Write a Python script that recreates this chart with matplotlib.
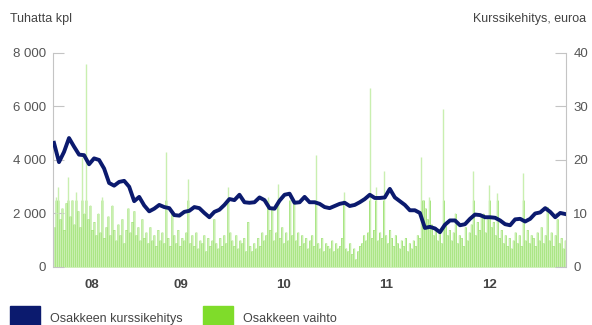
import numpy as np
import pandas as pd
import matplotlib
matplotlib.use("Agg")
import matplotlib.pyplot as plt
from matplotlib.patches import Rectangle

plt.rcParams['font.family'] = ['Liberation Sans', 'DejaVu Sans']

start_date = "2008-04-07"
end_date = "2013-03-28"

# share price, euros (read every ~2.5 weeks)
price = [23.2, 19.6, 21.5, 24.1, 22.5, 21.0, 20.9, 19.2, 20.3, 20.0,
         18.4, 15.7, 15.2, 15.9, 16.1, 15.0, 12.3, 13.1, 11.5, 10.4,
         10.9, 11.6, 11.2, 11.0, 9.7, 9.6, 10.3, 10.5, 11.2, 11.0,
         10.1, 9.3, 10.3, 10.7, 11.6, 12.7, 12.5, 13.5, 12.1, 12.0,
         12.1, 13.0, 12.5, 11.0, 10.9, 12.4, 13.5, 13.7, 12.0, 12.1,
         13.1, 12.1, 12.1, 11.8, 11.2, 11.0, 11.4, 11.8, 12.0, 11.4,
         11.6, 12.1, 12.7, 13.5, 12.9, 12.9, 13.0, 14.6, 13.0, 12.3,
         11.6, 10.6, 10.6, 10.1, 7.3, 7.5, 7.2, 6.5, 7.9, 8.7,
         8.7, 7.8, 8.0, 9.0, 9.8, 9.7, 9.3, 9.3, 9.2, 8.7,
         8.0, 7.8, 8.9, 9.0, 8.5, 9.0, 10.0, 10.2, 11.0, 10.3,
         9.3, 10.1, 9.9]

# traded volume, thousands of shares (approx. weekly)
volume = [1500, 2600, 3000, 1800, 2200, 1400, 2400, 3360, 1900, 2500,
          1600, 2800, 2100, 1500, 4100, 2000, 7600, 1800, 2300, 1400,
          1700, 1200, 2000, 1300, 2600, 1100, 1500, 1900, 1200, 2300,
          1400, 1000, 1600, 1200, 1800, 900, 1400, 2200, 1300, 1700,
          2100, 1200, 1500, 1000, 1800, 1100, 1300, 900, 1500, 1000,
          1200, 800, 1400, 1000, 1300, 900, 4300, 1100, 800, 2000,
          1200, 900, 1400, 800, 1100, 1000, 1300, 3300, 900, 1200,
          800, 1300, 700, 1000, 900, 1200, 600, 1100, 800, 1000,
          1800, 900, 700, 1100, 800, 1200, 900, 3000, 1300, 1000,
          800, 1200, 700, 1000, 900, 1100, 600, 1700, 800, 600,
          900, 700, 1100, 800, 1300, 1000, 1200, 2600, 1400, 2200,
          1000, 1300, 3100, 1100, 1500, 900, 1300, 1000, 2500, 1200,
          2400, 1000, 1300, 800, 1200, 900, 1100, 700, 1000, 1200,
          800, 4200, 900, 700, 1100, 600, 900, 800, 700, 1000,
          600, 900, 700, 800, 1100, 2800, 700, 600, 900, 500,
          700, 300, 600, 800, 900, 1200, 1000, 1300, 6700, 1100,
          1400, 3000, 1000, 1300, 1100, 3600, 1200, 900, 1400, 1100,
          800, 1200, 900, 700, 1000, 800, 1100, 600, 900, 700,
          1000, 800, 1200, 1100, 4100, 2500, 2200, 1800, 2600, 1600,
          1200, 1500, 1000, 1400, 900, 5900, 1600, 1200, 1400, 1000,
          1300, 2000, 900, 1200, 1100, 800, 1500, 1000, 1300, 1600,
          3600, 1200, 1700, 1400, 1900, 2000, 1300, 1800, 3060, 1500,
          1700, 1200, 2750, 1100, 1400, 900, 1200, 800, 1100, 700,
          1000, 1300, 900, 1200, 800, 3500, 1000, 1400, 900, 1200,
          1100, 800, 1300, 1000, 1500, 900, 1200, 2250, 1000, 1300,
          800, 1200, 1800, 900, 1100, 700, 1000]

years = [2008, 2009, 2010, 2011, 2012]
year_labels = ["08", "09", "10", "11", "12"]

navy = "#0b1a6e"
green = "#7fdc2a"
bar_green = "#9ce271"
spike_green = "#c9efb0"
grey = "#c4c4c4"
text_col = "#555555"

price_dates = pd.date_range(start_date, end_date, periods=len(price))
vol_dates = pd.date_range(start_date, end_date, periods=len(volume))
t0 = pd.Timestamp(start_date)
t1 = pd.Timestamp(end_date)
step = (t1 - t0) / (len(volume) - 1)

fig = plt.figure(figsize=(5.92, 3.25), dpi=100)
ax = fig.add_axes([0.0895, 0.1785, 0.867, 0.6585])
ax2 = ax.twinx()

# tall single-day spikes look faint in the original, so draw them as thin pale lines
vol = np.array(volume)
base = np.minimum(vol, 2500)
ax.vlines(vol_dates, 0, vol, color=spike_green, lw=1.0)
ax.fill_between(vol_dates, 0, base, step="mid", color=bar_green, lw=0)
ax2.plot(price_dates, price, color=navy, lw=2.8, solid_joinstyle="round")

ax.set_xlim(t0 - step / 2, t1 + step / 2)
ax.set_ylim(0, 8000)
ax2.set_ylim(0, 40)
ax.set_yticks([0, 2000, 4000, 6000, 8000])
ax.set_yticklabels(["0", "2 000", "4 000", "6 000", "8 000"])
ax2.set_yticks([0, 10, 20, 30, 40])

# year labels centred on the visible part of each year
centres = []
for y in years:
    a = max(pd.Timestamp(f"{y}-01-01"), t0)
    b = min(pd.Timestamp(f"{y + 1}-01-01"), t1)
    centres.append(a + (b - a) / 2)
ax.set_xticks(centres)
ax.set_xticklabels(year_labels, fontweight="bold", fontsize=9.5, color="#444444")
ax.tick_params(axis="x", length=0, pad=9)

for a in (ax, ax2):
    for s in ("top", "bottom", "left", "right"):
        a.spines[s].set_visible(False)
ax.spines["left"].set_visible(True)
ax.spines["left"].set_color(grey)
ax2.spines["right"].set_visible(True)
ax2.spines["right"].set_color(grey)

ax.tick_params(axis="y", direction="in", length=8, color=grey, labelsize=9.5,
               labelcolor=text_col, pad=5)
ax2.tick_params(axis="y", direction="in", length=8, color=grey, labelsize=9.5,
                labelcolor=text_col, pad=5)

fig.text(0.017, 0.942, "Tuhatta kpl", fontsize=9, color="#444444", va="center")
fig.text(0.99, 0.942, "Kurssikehitys, euroa", fontsize=9, color="#444444",
         va="center", ha="right")

# legend
fig.patches.append(Rectangle((10 / 592, 0), 30 / 592, 19 / 325, transform=fig.transFigure,
                             color=navy))
fig.text(50 / 592, 6 / 325, "Osakkeen kurssikehitys", fontsize=9, color="#444444",
         va="center")
fig.patches.append(Rectangle((203 / 592, 0), 30 / 592, 19 / 325, transform=fig.transFigure,
                             color=green))
fig.text(243 / 592, 6 / 325, "Osakkeen vaihto", fontsize=9, color="#444444",
         va="center")

fig.savefig("out.png", dpi=100)
